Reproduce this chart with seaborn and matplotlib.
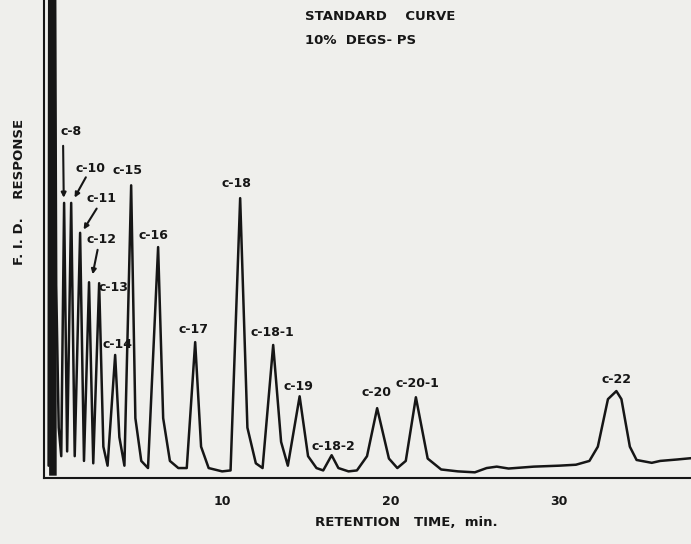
import matplotlib
matplotlib.use("Agg")
import matplotlib.pyplot as plt
import seaborn as sns
import numpy as np

# trace: retention time (min) vs F.I.D. response (% of full scale)
time_min = [-0.30, -0.26, 0.08, 0.15, 0.30, 0.45, 0.62, 0.80, 1.04, 1.25, 1.57, 1.80,
            2.10, 2.35, 2.70, 2.95, 3.20, 3.65, 3.90, 4.20, 4.60, 4.85, 5.20, 5.60,
            6.20, 6.50, 6.90, 7.40, 7.90, 8.40, 8.75, 9.20, 10.0, 10.5, 11.07, 11.5,
            12.0, 12.4, 13.03, 13.5, 13.9, 14.6, 15.1, 15.6, 16.0, 16.5, 16.9, 17.5,
            18.0, 18.6, 19.2, 19.9, 20.4, 20.9, 21.5, 22.2, 23.0, 24.0, 25.0, 25.7,
            26.3, 27.0, 28.5, 30.0, 31.0, 31.8, 32.3, 32.9, 33.4, 33.7, 34.2, 34.6,
            35.5, 36.0, 37.0, 37.9]
response = [2.0, 110, 110, 40, 10, 4, 57.3, 5, 57.3, 4, 51, 3,
            40.6, 2.5, 40.4, 6, 2, 25.3, 8, 2, 61, 12, 3, 1.5,
            48, 12, 3, 1.5, 1.5, 28, 6, 1.5, 0.8, 1.0, 58.3, 10,
            2.5, 1.5, 27.4, 7, 2, 16.6, 4, 1.5, 1.0, 4.2, 1.5, 0.8,
            1.0, 4.0, 14.1, 3.5, 1.5, 3.0, 16.4, 3.5, 1.2, 0.8, 0.6, 1.5,
            1.8, 1.4, 1.8, 2.0, 2.2, 3.0, 6, 16, 17.7, 16, 6, 3.2,
            2.6, 3.0, 3.3, 3.6]

peak_names = ["c-8", "c-10", "c-11", "c-12", "c-13", "c-14", "c-15", "c-16", "c-17",
              "c-18", "c-18-1", "c-19", "c-18-2", "c-20", "c-20-1", "c-22"]
x_ticks = [10, 20, 30]

# where each peak name sits (layout only)
label_pos = [(1.04, 72.4), (2.17, 64.6), (2.82, 58.3), (2.82, 49.7), (3.53, 39.4),
             (3.77, 27.6), (4.36, 64.2), (5.90, 50.5), (8.28, 30.7), (10.83, 61.3),
             (12.97, 30.1), (14.51, 18.7), (16.59, 6.1), (19.14, 17.3), (21.57, 19.2),
             (33.38, 20.2)]
# pointer lines for the crowded early peaks: (start, tip)
pointers = [((0.56, 69.9), (0.60, 57.8)), ((1.99, 63.2), (1.16, 57.9)),
            ((2.64, 56.6), (1.69, 51.2)), ((2.64, 48.0), (2.28, 41.7))]

bg = "#efefec"
ink = "#161616"
sns.set_theme(style="white")
plt.rcParams["font.family"] = ["DejaVu Sans"]
plt.rcParams["font.weight"] = "bold"

fig = plt.figure(figsize=(6.91, 5.44), dpi=100, facecolor=bg)
ax = fig.add_axes([0.064, 0.121, 0.936, 0.879])
ax.set_facecolor(bg)

sns.lineplot(x=time_min, y=response, sort=False, estimator=None, color=ink, lw=1.8, ax=ax)
ax.fill_between(time_min[:4], 0, response[:4], color=ink, lw=0)

ax.set_xlim(-0.56, 37.83)
ax.set_ylim(-0.63, 100)
ax.set_xticks(x_ticks)
ax.set_xticklabels([str(t) for t in x_ticks], fontsize=9, fontweight="bold", color=ink)
ax.tick_params(axis="x", direction="out", length=6, width=1.5, color=ink, pad=6)
ax.set_yticks([])
for s in ["top", "right"]:
    ax.spines[s].set_visible(False)
for s in ["left", "bottom"]:
    ax.spines[s].set_color(ink)
    ax.spines[s].set_linewidth(1.5)

for name, (tx, ty) in zip(peak_names, label_pos):
    ax.text(tx, ty, name, ha="center", va="center", fontsize=9, fontweight="bold", color=ink)
for start, tip in pointers:
    ax.annotate("", xy=tip, xytext=start,
                arrowprops=dict(arrowstyle="-|>", color=ink, lw=1.5, mutation_scale=7))

fig.text(305 / 691, 1 - 16 / 544, "STANDARD    CURVE", ha="left", va="center",
         fontsize=9.5, fontweight="bold", color=ink)
fig.text(305 / 691, 1 - 40 / 544, "10%  DEGS- PS", ha="left", va="center",
         fontsize=9.5, fontweight="bold", color=ink)
fig.text(406 / 691, 1 - 522 / 544, "RETENTION   TIME,  min.", ha="center", va="center",
         fontsize=9.5, fontweight="bold", color=ink)
fig.text(20 / 691, 1 - 192 / 544, "F. I. D.    RESPONSE", ha="center", va="center",
         rotation=90, fontsize=9.5, fontweight="bold", color=ink)

fig.savefig("out.png", dpi=100, facecolor=bg)
